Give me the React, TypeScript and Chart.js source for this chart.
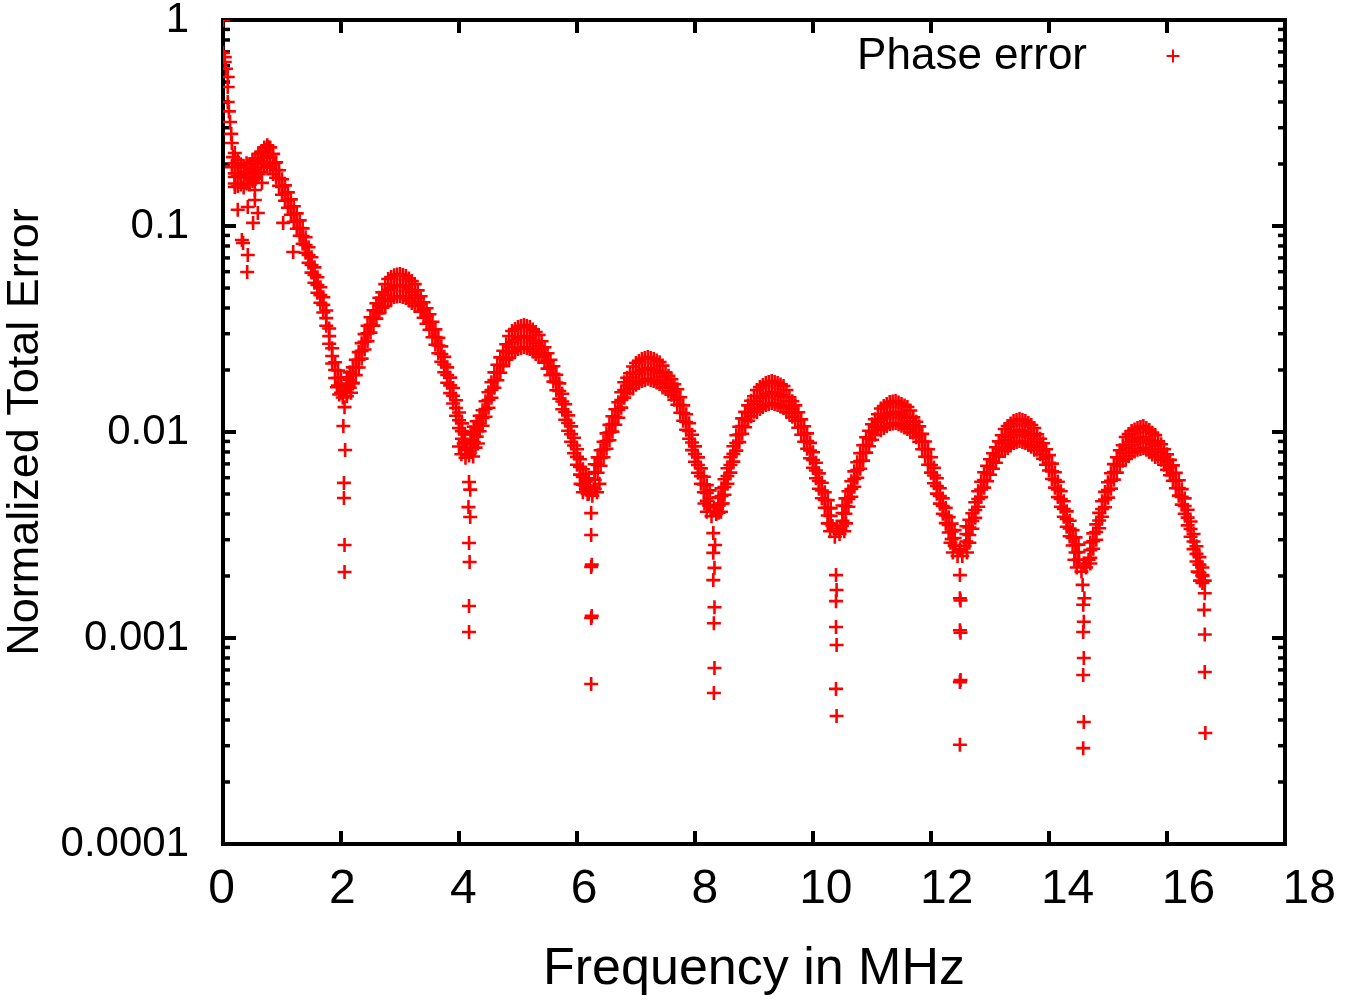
import React, { useEffect, useRef } from "react";
import { Chart, registerables } from "chart.js";

Chart.register(...registerables);

const FONT = "'Liberation Sans', Arial, sans-serif";

// axis ticks
const xTicks = [0, 2, 4, 6, 8, 10, 12, 14, 16, 18];
const yTicks = [0.0001, 0.001, 0.01, 0.1, 1];
const yTickLabels = ["0.0001", "0.001", "0.01", "0.1", "1"];
const yMinorSteps = [2, 3, 4, 5, 6, 7, 8, 9];

const seriesLabel = "Phase error";
const xTitle = "Frequency in MHz";
const yTitle = "Normalized Total Error";

// scattered single readings near 0 MHz: [frequency MHz, normalized error]
const early: [number, number][] = [
  [0, 1.0], [0, 0.691], [0.03, 0.66], [0.03, 0.625], [0.05, 0.58], [0.08, 0.529], [0.08, 0.473],
  [0.08, 0.4], [0.1, 0.36], [0.12, 0.32], [0.14, 0.28], [0.15, 0.253], [0.17, 0.216], [0.2, 0.226],
  [0.15, 0.193], [0.25, 0.209], [0.2, 0.173], [0.37, 0.183], [0.49, 0.193], [0.54, 0.173],
  [0.59, 0.209], [0.71, 0.234], [0.76, 0.242], [0.88, 0.203], [0.66, 0.162],
  [0.25, 0.12], [0.34, 0.0827], [0.42, 0.0723], [0.41, 0.0598], [0.54, 0.1337], [0.51, 0.1035],
  [0.32, 0.0855], [0.59, 0.1156], [0.42, 0.1236], [0.2, 0.1546], [0.54, 0.1496],
  [1.02, 0.1035], [1.19, 0.0748],
];

// band readings: [frequency MHz, top of band, middle of band, bottom of band]
const lowBand: [number, number, number, number][] = [
  [0.2, 0.2016, 0.18, 0.1607], [0.25, 0.196, 0.175, 0.1563], [0.3, 0.1994, 0.178, 0.1589],
  [0.35, 0.1926, 0.172, 0.1536], [0.4, 0.2016, 0.18, 0.1607], [0.45, 0.1994, 0.178, 0.1589],
  [0.5, 0.2072, 0.185, 0.1652], [0.55, 0.2128, 0.19, 0.1696], [0.6, 0.224, 0.2, 0.1786],
  [0.65, 0.2296, 0.205, 0.183], [0.7, 0.2408, 0.215, 0.192], [0.75, 0.2464, 0.22, 0.1964],
  [0.8, 0.2408, 0.215, 0.192], [0.85, 0.224, 0.2, 0.1786],
  [0.9, 0.2038, 0.187, 0.1716], [0.95, 0.1864, 0.171, 0.1569], [1.0, 0.1685, 0.1546, 0.1418],
  [1.05, 0.1575, 0.1445, 0.1326], [1.1, 0.1457, 0.1337, 0.1227], [1.15, 0.1347, 0.1236, 0.1134],
  [1.2, 0.1246, 0.1143, 0.1049], [1.25, 0.1152, 0.1057, 0.097], [1.3, 0.1065, 0.0977, 0.0896],
  [1.35, 0.0974, 0.0894, 0.082], [1.4, 0.0882, 0.0809, 0.0742], [1.45, 0.0788, 0.0723, 0.0663],
  [1.5, 0.0705, 0.0647, 0.0594], [1.55, 0.063, 0.0578, 0.053], [1.6, 0.0564, 0.0517, 0.0474],
  [1.65, 0.0504, 0.0462, 0.0424], [1.7, 0.0451, 0.0414, 0.038], [1.75, 0.0389, 0.0357, 0.0328],
  [1.8, 0.0318, 0.0292, 0.0268], [1.85, 0.0255, 0.0234, 0.0215], [1.9, 0.0218, 0.02, 0.0183],
  [1.95, 0.0199, 0.0183, 0.0168], [2.0, 0.0184, 0.0169, 0.0155],
];

const arch1: [number, number, number, number][] = [
  [2.1, 0.01842, 0.0169, 0.0155], [2.15, 0.01948, 0.01787, 0.01639], [2.2, 0.0206, 0.0189, 0.01734],
  [2.25, 0.02243, 0.02058, 0.01888], [2.3, 0.02442, 0.0224, 0.02055], [2.35, 0.027, 0.02477, 0.02272],
  [2.4, 0.02987, 0.0274, 0.02514], [2.45, 0.03282, 0.03011, 0.02762], [2.5, 0.03608, 0.0331, 0.03037],
  [2.55, 0.03901, 0.03579, 0.03283], [2.6, 0.04218, 0.0387, 0.0355], [2.65, 0.04482, 0.04112, 0.03772],
  [2.7, 0.04763, 0.0437, 0.04009], [2.75, 0.05224, 0.04623, 0.04091], [2.8, 0.05526, 0.0489, 0.04328],
  [2.85, 0.05649, 0.04999, 0.04424], [2.9, 0.05774, 0.0511, 0.04522], [2.95, 0.05808, 0.0514, 0.04549],
  [3.0, 0.05842, 0.0517, 0.04575], [3.05, 0.0578, 0.05115, 0.04527], [3.1, 0.05718, 0.0506, 0.04478],
  [3.15, 0.05557, 0.04918, 0.04352], [3.2, 0.05401, 0.0478, 0.0423], [3.25, 0.05223, 0.04622, 0.0409],
  [3.3, 0.04872, 0.0447, 0.04101], [3.35, 0.04557, 0.04181, 0.03836], [3.4, 0.04262, 0.0391, 0.03587],
  [3.45, 0.03986, 0.03657, 0.03355], [3.5, 0.03728, 0.0342, 0.03138], [3.55, 0.03427, 0.03144, 0.02884],
  [3.6, 0.0315, 0.0289, 0.02651], [3.65, 0.02865, 0.02628, 0.02411], [3.7, 0.02605, 0.0239, 0.02193],
  [3.75, 0.02316, 0.02125, 0.0195], [3.8, 0.0206, 0.0189, 0.01734], [3.85, 0.01836, 0.01684, 0.01545],
  [3.9, 0.01635, 0.015, 0.01376], [3.95, 0.01426, 0.01308, 0.012], [4.0, 0.01243, 0.0114, 0.01046],
  [4.05, 0.01101, 0.0101, 0.00927], [4.1, 0.00974, 0.00894, 0.0082],
];

const arch2: [number, number, number, number][] = [
  [4.2, 0.00997, 0.00915, 0.00839], [4.25, 0.01061, 0.00973, 0.00893], [4.3, 0.01128, 0.01035, 0.0095],
  [4.35, 0.01199, 0.011, 0.01009], [4.4, 0.01275, 0.0117, 0.01073], [4.45, 0.01409, 0.01293, 0.01186],
  [4.5, 0.01559, 0.0143, 0.01312], [4.55, 0.01743, 0.01599, 0.01467], [4.6, 0.01948, 0.01787, 0.01639],
  [4.65, 0.02119, 0.01944, 0.01783], [4.7, 0.02304, 0.02114, 0.01939], [4.75, 0.02478, 0.02273, 0.02085],
  [4.8, 0.02665, 0.02445, 0.02243], [4.85, 0.02922, 0.02586, 0.02289], [4.9, 0.03091, 0.02735, 0.0242],
  [4.95, 0.0316, 0.02796, 0.02474], [5.0, 0.03231, 0.02859, 0.0253], [5.05, 0.03267, 0.02891, 0.02559],
  [5.1, 0.03304, 0.02924, 0.02588], [5.15, 0.03267, 0.02891, 0.02559], [5.2, 0.03231, 0.02859, 0.0253],
  [5.25, 0.03141, 0.0278, 0.0246], [5.3, 0.03056, 0.02704, 0.02393], [5.35, 0.02955, 0.02615, 0.02314],
  [5.4, 0.02757, 0.02529, 0.0232], [5.45, 0.02579, 0.02366, 0.02171], [5.5, 0.02412, 0.02213, 0.0203],
  [5.55, 0.02243, 0.02058, 0.01888], [5.6, 0.02086, 0.01914, 0.01756], [5.65, 0.01897, 0.0174, 0.01596],
  [5.7, 0.01723, 0.01581, 0.0145], [5.75, 0.01533, 0.01406, 0.0129], [5.8, 0.01363, 0.0125, 0.01147],
  [5.85, 0.01204, 0.01105, 0.01014], [5.9, 0.01065, 0.00977, 0.00896], [5.95, 0.00937, 0.0086, 0.00789],
  [6.0, 0.00825, 0.00757, 0.00694], [6.05, 0.00738, 0.00677, 0.00621], [6.1, 0.00659, 0.00605, 0.00555],
  [6.15, 0.00627, 0.00575, 0.00528], [6.2, 0.00596, 0.00547, 0.00502],
];

const arch3: [number, number, number, number][] = [
  [6.3, 0.00697, 0.00639, 0.00586], [6.35, 0.00753, 0.00691, 0.00634], [6.4, 0.00815, 0.00748, 0.00686],
  [6.45, 0.00896, 0.00822, 0.00754], [6.5, 0.00985, 0.00904, 0.00829], [6.55, 0.01083, 0.00994, 0.00912],
  [6.6, 0.01192, 0.01094, 0.01004], [6.65, 0.01289, 0.01183, 0.01085], [6.7, 0.01394, 0.01279, 0.01173],
  [6.75, 0.0156, 0.01431, 0.01313], [6.8, 0.01744, 0.016, 0.01468], [6.85, 0.01834, 0.01683, 0.01544],
  [6.9, 0.01929, 0.0177, 0.01624], [6.95, 0.02079, 0.0184, 0.01628], [7.0, 0.02163, 0.01914, 0.01694],
  [7.05, 0.02211, 0.01957, 0.01732], [7.1, 0.0226, 0.02, 0.0177], [7.15, 0.02286, 0.02023, 0.0179],
  [7.2, 0.02312, 0.02046, 0.01811], [7.25, 0.02286, 0.02023, 0.0179], [7.3, 0.0226, 0.02, 0.0177],
  [7.35, 0.02222, 0.01966, 0.0174], [7.4, 0.02183, 0.01932, 0.0171], [7.45, 0.021, 0.01858, 0.01644],
  [7.5, 0.01948, 0.01787, 0.01639], [7.55, 0.01874, 0.01719, 0.01577], [7.6, 0.01802, 0.01653, 0.01517],
  [7.65, 0.01705, 0.01564, 0.01435], [7.7, 0.01612, 0.01479, 0.01357], [7.75, 0.01474, 0.01352, 0.0124],
  [7.8, 0.01347, 0.01236, 0.01134], [7.85, 0.01219, 0.01118, 0.01026], [7.9, 0.01103, 0.01012, 0.00928],
  [7.95, 0.0097, 0.0089, 0.00817], [8.0, 0.00852, 0.00782, 0.00717], [8.05, 0.00753, 0.00691, 0.00634],
  [8.1, 0.00666, 0.00611, 0.00561], [8.15, 0.00606, 0.00556, 0.0051], [8.2, 0.00552, 0.00506, 0.00464],
  [8.25, 0.00521, 0.00478, 0.00439],
];

const arch4: [number, number, number, number][] = [
  [8.4, 0.00482, 0.00442, 0.00406], [8.45, 0.00533, 0.00489, 0.00449], [8.5, 0.0059, 0.00541, 0.00496],
  [8.55, 0.00667, 0.00612, 0.00561], [8.6, 0.00754, 0.00692, 0.00635], [8.65, 0.00853, 0.00783, 0.00718],
  [8.7, 0.00965, 0.00885, 0.00812], [8.75, 0.01061, 0.00973, 0.00893], [8.8, 0.01165, 0.01069, 0.00981],
  [8.85, 0.01252, 0.01149, 0.01054], [8.9, 0.01347, 0.01236, 0.01134], [8.95, 0.01417, 0.013, 0.01193],
  [9.0, 0.01491, 0.01368, 0.01255], [9.05, 0.01598, 0.01414, 0.01251], [9.1, 0.01652, 0.01462, 0.01294],
  [9.15, 0.01689, 0.01495, 0.01323], [9.2, 0.01728, 0.01529, 0.01353], [9.25, 0.01747, 0.01546, 0.01368],
  [9.3, 0.01766, 0.01563, 0.01383], [9.35, 0.01747, 0.01546, 0.01368], [9.4, 0.01728, 0.01529, 0.01353],
  [9.45, 0.017, 0.01504, 0.01331], [9.5, 0.01671, 0.01479, 0.01309], [9.55, 0.01598, 0.01414, 0.01251],
  [9.6, 0.01474, 0.01352, 0.0124], [9.65, 0.01409, 0.01293, 0.01186], [9.7, 0.01347, 0.01236, 0.01134],
  [9.75, 0.01246, 0.01143, 0.01049], [9.8, 0.01152, 0.01057, 0.0097], [9.85, 0.01066, 0.00978, 0.00897],
  [9.9, 0.00985, 0.00904, 0.00829], [9.95, 0.00886, 0.00813, 0.00746], [10.0, 0.00797, 0.00731, 0.00671],
  [10.05, 0.00709, 0.0065, 0.00596], [10.1, 0.0063, 0.00578, 0.0053], [10.15, 0.00567, 0.0052, 0.00477],
  [10.2, 0.0051, 0.00468, 0.00429], [10.25, 0.00467, 0.00428, 0.00393], [10.3, 0.00426, 0.00391, 0.00359],
];

const arch5: [number, number, number, number][] = [
  [10.5, 0.0044, 0.00404, 0.00371], [10.55, 0.00476, 0.00437, 0.00401], [10.6, 0.00516, 0.00473, 0.00434],
  [10.65, 0.00577, 0.00529, 0.00485], [10.7, 0.00644, 0.00591, 0.00542], [10.75, 0.00713, 0.00654, 0.006],
  [10.8, 0.00788, 0.00723, 0.00663], [10.85, 0.00862, 0.00791, 0.00726], [10.9, 0.00943, 0.00865, 0.00794],
  [10.95, 0.01014, 0.0093, 0.00853], [11.0, 0.0109, 0.01, 0.00917], [11.05, 0.01153, 0.01058, 0.00971],
  [11.1, 0.0122, 0.01119, 0.01027], [11.15, 0.01301, 0.01151, 0.01019], [11.2, 0.01337, 0.01183, 0.01047],
  [11.25, 0.01366, 0.01209, 0.0107], [11.3, 0.01397, 0.01236, 0.01094], [11.35, 0.01405, 0.01243, 0.011],
  [11.4, 0.01413, 0.0125, 0.01106], [11.45, 0.0139, 0.0123, 0.01089], [11.5, 0.01367, 0.0121, 0.01071],
  [11.55, 0.01345, 0.0119, 0.01053], [11.6, 0.01322, 0.0117, 0.01035], [11.65, 0.01271, 0.01125, 0.00996],
  [11.7, 0.01178, 0.01081, 0.00992], [11.75, 0.01121, 0.01028, 0.00943], [11.8, 0.01065, 0.00977, 0.00896],
  [11.85, 0.00979, 0.00898, 0.00824], [11.9, 0.009, 0.00826, 0.00758], [11.95, 0.00824, 0.00756, 0.00694],
  [12.0, 0.00754, 0.00692, 0.00635], [12.05, 0.0067, 0.00615, 0.00564], [12.1, 0.00596, 0.00547, 0.00502],
  [12.15, 0.00533, 0.00489, 0.00449], [12.2, 0.00476, 0.00437, 0.00401], [12.25, 0.00428, 0.00393, 0.00361],
  [12.3, 0.00386, 0.00354, 0.00325], [12.35, 0.00359, 0.00329, 0.00302], [12.4, 0.00334, 0.00306, 0.00281],
];

const arch6: [number, number, number, number][] = [
  [12.6, 0.00349, 0.0032, 0.00294], [12.65, 0.00375, 0.00344, 0.00316], [12.7, 0.00403, 0.0037, 0.00339],
  [12.75, 0.00456, 0.00418, 0.00383], [12.8, 0.00516, 0.00473, 0.00434], [12.85, 0.00573, 0.00526, 0.00483],
  [12.9, 0.00638, 0.00585, 0.00537], [12.95, 0.00686, 0.00629, 0.00577], [13.0, 0.00737, 0.00676, 0.0062],
  [13.05, 0.00788, 0.00723, 0.00663], [13.1, 0.00843, 0.00773, 0.00709], [13.15, 0.00901, 0.00827, 0.00759],
  [13.2, 0.00965, 0.00885, 0.00812], [13.25, 0.01034, 0.00915, 0.0081], [13.3, 0.01069, 0.00946, 0.00837],
  [13.35, 0.011, 0.00973, 0.00861], [13.4, 0.0113, 0.01, 0.00885], [13.45, 0.01142, 0.01011, 0.00895],
  [13.5, 0.01156, 0.01023, 0.00905], [13.55, 0.01142, 0.01011, 0.00895], [13.6, 0.0113, 0.01, 0.00885],
  [13.65, 0.01105, 0.00978, 0.00865], [13.7, 0.01081, 0.00957, 0.00847], [13.75, 0.01045, 0.00925, 0.00819],
  [13.8, 0.00974, 0.00894, 0.0082], [13.85, 0.00927, 0.0085, 0.0078], [13.9, 0.00882, 0.00809, 0.00742],
  [13.95, 0.00825, 0.00757, 0.00694], [14.0, 0.00772, 0.00708, 0.0065], [14.05, 0.00702, 0.00644, 0.00591],
  [14.1, 0.00638, 0.00585, 0.00537], [14.15, 0.00573, 0.00526, 0.00483], [14.2, 0.00516, 0.00473, 0.00434],
  [14.25, 0.00461, 0.00423, 0.00388], [14.3, 0.00412, 0.00378, 0.00347], [14.35, 0.00371, 0.0034, 0.00312],
  [14.4, 0.00334, 0.00306, 0.00281], [14.45, 0.00308, 0.00283, 0.0026], [14.5, 0.00284, 0.00261, 0.00239],
];

const arch7: [number, number, number, number][] = [
  [14.7, 0.00291, 0.00267, 0.00245], [14.75, 0.00322, 0.00295, 0.00271], [14.8, 0.00356, 0.00327, 0.003],
  [14.85, 0.00405, 0.00372, 0.00341], [14.9, 0.00461, 0.00423, 0.00388], [14.95, 0.00512, 0.0047, 0.00431],
  [15.0, 0.0057, 0.00523, 0.0048], [15.05, 0.00631, 0.00579, 0.00531], [15.1, 0.00698, 0.0064, 0.00587],
  [15.15, 0.00754, 0.00692, 0.00635], [15.2, 0.00815, 0.00748, 0.00686], [15.25, 0.00862, 0.00791, 0.00726],
  [15.3, 0.00945, 0.00836, 0.0074], [15.35, 0.00977, 0.00865, 0.00765], [15.4, 0.0101, 0.00894, 0.00791],
  [15.45, 0.01027, 0.00909, 0.00804], [15.5, 0.01045, 0.00925, 0.00819], [15.55, 0.01057, 0.00935, 0.00827],
  [15.6, 0.01069, 0.00946, 0.00837], [15.65, 0.01045, 0.00925, 0.00819], [15.7, 0.01022, 0.00904, 0.008],
  [15.75, 0.00993, 0.00879, 0.00778], [15.8, 0.00966, 0.00855, 0.00757], [15.85, 0.00901, 0.00827, 0.00759],
  [15.9, 0.00872, 0.008, 0.00734], [15.95, 0.00824, 0.00756, 0.00694], [16.0, 0.00779, 0.00715, 0.00656],
  [16.05, 0.00732, 0.00672, 0.00617], [16.1, 0.00689, 0.00632, 0.0058], [16.15, 0.00633, 0.00581, 0.00533],
  [16.2, 0.00583, 0.00535, 0.00491], [16.25, 0.00528, 0.00484, 0.00444], [16.3, 0.00476, 0.00437, 0.00401],
  [16.35, 0.00419, 0.00384, 0.00352], [16.4, 0.00368, 0.00338, 0.0031], [16.45, 0.0032, 0.00294, 0.0027],
  [16.5, 0.00279, 0.00256, 0.00235], [16.55, 0.00247, 0.00227, 0.00208], [16.6, 0.0022, 0.00202, 0.00185],
];

// flat clusters at the bottom of each valley
const valleys: [number, number][] = [
  [1.93, 0.0165], [1.97, 0.0152], [2.0, 0.0172], [2.03, 0.0147], [2.06, 0.016], [2.1, 0.0149], [2.13, 0.0168], [2.17, 0.0155], [2.2, 0.0172],
  [4.0, 0.0085], [4.04, 0.0078], [4.08, 0.0088], [4.11, 0.0075], [4.14, 0.0083], [4.17, 0.0077], [4.2, 0.0087], [4.24, 0.0076], [4.28, 0.0084], [4.32, 0.0088],
  [6.06, 0.0056], [6.1, 0.0051], [6.14, 0.0055], [6.18, 0.005], [6.22, 0.0054], [6.26, 0.0049], [6.3, 0.0053], [6.34, 0.0051], [6.38, 0.0056],
  [8.16, 0.0045], [8.2, 0.0041], [8.24, 0.0044], [8.28, 0.0039], [8.32, 0.0043], [8.36, 0.004], [8.4, 0.0044], [8.44, 0.0041], [8.47, 0.0045],
  [10.25, 0.0036], [10.29, 0.0033], [10.33, 0.0035], [10.37, 0.0031], [10.41, 0.0034], [10.45, 0.0032], [10.49, 0.0035], [10.53, 0.0033], [10.56, 0.0036],
  [12.33, 0.0029], [12.37, 0.0026], [12.41, 0.0028], [12.45, 0.0025], [12.49, 0.0027], [12.53, 0.0025], [12.57, 0.0028], [12.61, 0.0026], [12.65, 0.0029],
  [14.43, 0.0024], [14.47, 0.0022], [14.51, 0.0024], [14.55, 0.0021], [14.59, 0.0023], [14.63, 0.0022], [14.67, 0.0024], [14.7, 0.0023],
  [16.52, 0.0021], [16.56, 0.0019], [16.6, 0.002], [16.64, 0.0019],
];

// isolated points dropping below each valley
const dips: [number, number][] = [
  [2.06, 0.0132], [2.04, 0.0107], [2.07, 0.00818], [2.05, 0.00566], [2.05, 0.00478], [2.06, 0.00283], [2.06, 0.00209],
  [4.17, 0.00572], [4.19, 0.00525], [4.16, 0.00432], [4.19, 0.00387], [4.17, 0.00289], [4.18, 0.00234], [4.17, 0.00143], [4.17, 0.00107],
  [6.24, 0.00404], [6.24, 0.00316], [6.24, 0.00221], [6.25, 0.00227], [6.24, 0.00125], [6.25, 0.00128], [6.24, 0.000598],
  [8.31, 0.00323], [8.34, 0.00283], [8.31, 0.00259], [8.33, 0.00219], [8.31, 0.00191], [8.33, 0.00141], [8.32, 0.00118], [8.33, 0.000715], [8.32, 0.000541],
  [10.39, 0.00202], [10.4, 0.00171], [10.39, 0.00151], [10.39, 0.00113], [10.4, 0.000925], [10.39, 0.000566], [10.4, 0.000418],
  [12.49, 0.00202], [12.49, 0.00156], [12.5, 0.00152], [12.49, 0.00109], [12.5, 0.00106], [12.49, 0.000611], [12.5, 0.000625], [12.49, 0.000303],
  [14.57, 0.00181], [14.6, 0.00156], [14.58, 0.00145], [14.59, 0.0012], [14.58, 0.00107], [14.59, 0.0008], [14.58, 0.000661], [14.59, 0.000391], [14.58, 0.000292],
  [16.64, 0.00165], [16.63, 0.00137], [16.64, 0.00104], [16.64, 0.000684], [16.65, 0.000346],
];

const RED = "#ff0000";
const CLEAR = "rgba(0,0,0,0)";

const framePlugin = {
  id: "gnuplotFrame",
  beforeDatasetsDraw(chart: any) {
    const { ctx, chartArea: a, scales } = chart;
    const x = scales.x;
    const y = scales.y;
    ctx.save();
    ctx.strokeStyle = "#000";
    ctx.lineCap = "butt";
    const seg = (x1: number, y1: number, x2: number, y2: number, w: number) => {
      ctx.lineWidth = w;
      ctx.beginPath();
      ctx.moveTo(x1, y1);
      ctx.lineTo(x2, y2);
      ctx.stroke();
    };
    for (const v of xTicks) {
      const px = x.getPixelForValue(v);
      seg(px, a.bottom, px, a.bottom - 13, 4);
      seg(px, a.top, px, a.top + 13, 4);
    }
    for (let i = 0; i < yTicks.length; i++) {
      const v = yTicks[i];
      const py = y.getPixelForValue(v);
      seg(a.left, py, a.left + 13, py, 4);
      seg(a.right, py, a.right - 13, py, 4);
      if (i < yTicks.length - 1) {
        for (const m of yMinorSteps) {
          const pm = y.getPixelForValue(v * m);
          seg(a.left, pm, a.left + 7, pm, 3.5);
          seg(a.right, pm, a.right - 7, pm, 3.5);
        }
      }
    }
    ctx.lineWidth = 4;
    ctx.strokeRect(a.left, a.top, a.right - a.left, a.bottom - a.top);

    // x tick labels (the reference spreads them slightly wider than the ticks)
    ctx.fillStyle = "#000";
    ctx.font = `48px ${FONT}`;
    ctx.textAlign = "center";
    ctx.textBaseline = "middle";
    for (const v of xTicks) {
      const px = x.getPixelForValue(v);
      const lx = a.left + (px - a.left) * 1.0243 - 1.5;
      ctx.fillText(String(v), lx, a.bottom + 46);
    }
    ctx.restore();
  },
  afterDatasetsDraw(chart: any) {
    const { ctx, chartArea: a } = chart;
    ctx.save();
    ctx.fillStyle = "#000";
    ctx.font = `44px ${FONT}`;
    ctx.textAlign = "right";
    ctx.textBaseline = "middle";
    const ly = a.top + 36;
    ctx.fillText(seriesLabel, a.right - 198, ly + 1);
    const mx = a.right - 112;
    ctx.strokeStyle = RED;
    ctx.lineWidth = 2;
    ctx.beginPath();
    ctx.moveTo(mx - 6.5, ly);
    ctx.lineTo(mx + 6.5, ly);
    ctx.moveTo(mx, ly - 6.5);
    ctx.lineTo(mx, ly + 6.5);
    ctx.stroke();
    ctx.restore();
  },
};

export default function App() {
  const ref = useRef<HTMLCanvasElement | null>(null);

  useEffect(() => {
    if (!ref.current) return;
    const bands = [...lowBand, ...arch1, ...arch2, ...arch3, ...arch4, ...arch5, ...arch6, ...arch7];
    const points: { x: number; y: number }[] = [];
    for (const [fx, hi, mid, lo] of bands) {
      points.push({ x: fx, y: hi }, { x: fx, y: mid }, { x: fx, y: lo });
    }
    for (const [fx, fy] of [...early, ...valleys, ...dips]) points.push({ x: fx, y: fy });

    const chart = new Chart(ref.current, {
      type: "scatter",
      data: {
        datasets: [
          {
            label: seriesLabel,
            data: points,
            pointStyle: "cross",
            pointRadius: 7,
            pointHoverRadius: 7,
            pointBorderWidth: 2.6,
            borderColor: RED,
            backgroundColor: RED,
            showLine: false,
          },
        ],
      },
      options: {
        animation: false,
        responsive: false,
        events: [],
        layout: { padding: { top: 20, right: 60, left: 0, bottom: 0 } },
        plugins: {
          legend: { display: false },
          tooltip: { enabled: false },
        },
        scales: {
          x: {
            type: "linear",
            min: 0,
            max: 18,
            afterBuildTicks: (s: any) => {
              s.ticks = xTicks.map((v) => ({ value: v }));
            },
            afterFit: (s: any) => {
              s.height = 157;
            },
            grid: { display: false, drawTicks: false },
            border: { display: false },
            ticks: { display: false },
            title: {
              display: true,
              text: xTitle,
              color: "#000",
              font: { family: FONT, size: 52, lineHeight: 1 },
              padding: { top: 0, bottom: 5 },
            },
          },
          y: {
            type: "logarithmic",
            min: 0.0001,
            max: 1,
            afterBuildTicks: (s: any) => {
              s.ticks = yTicks.map((v) => ({ value: v }));
            },
            afterFit: (s: any) => {
              s.width = 223;
            },
            grid: {
              display: true,
              drawOnChartArea: false,
              drawTicks: true,
              tickLength: 34,
              color: CLEAR,
            },
            border: { display: false },
            ticks: {
              color: "#000",
              padding: 0,
              autoSkip: false,
              font: { family: FONT, size: 42, lineHeight: 0.9 },
              callback: (v: any) => {
                const i = yTicks.findIndex((t) => Math.abs(t - Number(v)) < t * 1e-6);
                return i >= 0 ? yTickLabels[i] : "";
              },
            },
            title: {
              display: true,
              text: yTitle,
              color: "#000",
              font: { family: FONT, size: 45, lineHeight: 1 },
              padding: { top: 3, bottom: 0 },
            },
          },
        },
      },
      plugins: [framePlugin],
    });
    return () => chart.destroy();
  }, []);

  return (
    <div style={{ position: "absolute", left: 0, top: 0, width: 1345, height: 1001, background: "#fff" }}>
      <canvas ref={ref} width={1345} height={1001} style={{ display: "block" }} />
    </div>
  );
}
